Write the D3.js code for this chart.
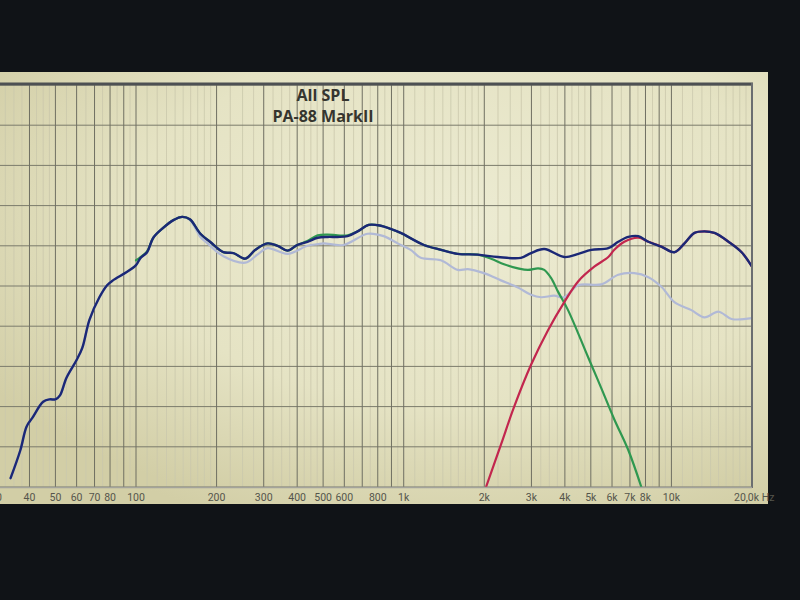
<!DOCTYPE html>
<html><head><meta charset="utf-8">
<script src="https://cdn.jsdelivr.net/npm/d3@7"></script>
<style>html,body{margin:0;padding:0;background:#101317;overflow:hidden}</style>
</head><body>
<script>
// ---- data (frequency in Hz, level in dB) ----
const titleLines = ["All SPL", "PA-88 MarkII"];
const totalFreq = [34,37,39,41,45,47.6,50,52,55,60,63,67,73,78,82,92,100,104,110,116,126,138,149,159,174,189,212,231,256,279,310,338,368,400,437,477,520,566,617,673,740,820,894,975,1190,1380,1590,1890,2250,2740,2990,3350,3980,4490,5020,5810,6330,6900,7520,8200,9170,10260,11190,12190,13290,14490,16350,18290,20000];
const totalDb   = [41.1,44.6,47.5,48.6,50.6,50.9,50.9,51.4,53.6,55.8,57.3,60.8,63.6,65.1,65.7,66.7,67.6,68.5,69.2,71.0,72.2,73.2,73.6,73.3,71.5,70.5,69.2,69.1,68.4,69.5,70.3,70.0,69.4,70.1,70.5,71.0,71.1,71.1,71.2,71.8,72.6,72.5,72.1,71.6,70.1,69.5,69.0,68.9,68.6,68.5,69.1,69.6,68.6,69.0,69.5,69.7,70.5,71.1,71.2,70.5,69.9,69.2,70.3,71.6,71.8,71.6,70.5,69.2,67.4];
const refFreq = [34,37,39,41,45,47.6,50,52,55,60,63,67,73,78,82,92,100,104,110,116,126,138,149,159,174,185,212,256,284,310,368,437,477,502,596,733,842,950,1062,1158,1376,1593,1737,1994,2308,2673,2990,3260,3646,3975,4485,5468,6331,7267,8202,9174,10260,11880,13290,15000,16770,20000];
const refDb   = [41.1,44.6,47.5,48.6,50.6,50.9,50.9,51.4,53.6,55.8,57.3,60.8,63.6,65.1,65.7,66.7,67.6,68.5,69.2,71.0,72.2,73.2,73.6,73.2,71.1,70.3,68.7,67.9,68.9,69.7,69.0,70.0,70.2,70.3,70.1,71.5,71.2,70.3,69.5,68.5,68.2,67.0,67.1,66.6,65.7,64.8,63.9,63.6,63.8,63.6,65.1,65.2,66.4,66.6,66.1,64.9,63.0,62.0,61.1,61.8,60.9,61.0];
const wooferFreq = [100,104,110,116,126,138,149,159,174,189,212,231,256,279,310,338,368,400,437,477,520,566,617,673,740,820,894,975,1190,1380,1590,1890,2120,2370,2670,2910,3180,3350,3550,3770,4110,4890,5470,6120,6900,7720];
const wooferDb   = [68.2,68.6,69.3,71.0,72.2,73.2,73.6,73.3,71.5,70.5,69.2,69.1,68.4,69.5,70.3,70.0,69.4,70.1,70.6,71.3,71.4,71.3,71.3,71.8,72.6,72.5,72.1,71.6,70.1,69.5,69.0,68.9,68.4,67.7,67.2,67.0,67.2,67.0,66.0,64.3,62.0,56.1,52.3,48.4,44.6,40.0];
const tweeterFreq = [2030,2310,2580,2990,3460,3980,4490,5150,5810,6120,6670,7520,8200,9170,10260,11190,12190,13290,14490,16350,18290,20000];
const tweeterDb   = [40.0,45.3,49.9,55.2,59.5,63.0,65.6,67.4,68.6,69.5,70.5,71.0,70.5,69.9,69.2,70.3,71.6,71.8,71.6,70.5,69.2,67.4];
const xMajor = [30,40,50,60,70,80,90,100,200,300,400,500,600,700,800,900,1000,2000,3000,4000,5000,6000,7000,8000,9000,10000,20000];
const xTickLabels = [[30,"30"],[40,"40"],[50,"50"],[60,"60"],[70,"70"],[80,"80"],[100,"100"],[200,"200"],[300,"300"],[400,"400"],[500,"500"],[600,"600"],[800,"800"],[1000,"1k"],[2000,"2k"],[3000,"3k"],[4000,"4k"],[5000,"5k"],[6000,"6k"],[7000,"7k"],[8000,"8k"],[10000,"10k"]];
const yTicks = [40,45,50,55,60,65,70,75,80,85,90];

// ---- layout ----
const W = 800, H = 600;
const plot = {left: 0, right: 752, top: 84, bottom: 487};
const x = d3.scaleLog().domain([30, 20000]).range([136 - 267.7 * Math.log10(100/30), 752]);
const y = d3.scaleLinear().domain([40, 90]).range([487, 85]);

const svg = d3.select("body").append("svg").attr("width", W).attr("height", H);
const defs = svg.append("defs");
const grad = defs.append("radialGradient").attr("id","bg").attr("cx","62%").attr("cy","35%").attr("r","75%");
grad.append("stop").attr("offset","0%").attr("stop-color","#ecebd2");
grad.append("stop").attr("offset","60%").attr("stop-color","#e5e3c4");
grad.append("stop").attr("offset","100%").attr("stop-color","#d2cea6");
defs.append("clipPath").attr("id","clip").append("rect")
  .attr("x",plot.left).attr("y",plot.top).attr("width",plot.right-plot.left).attr("height",plot.bottom-plot.top);

svg.append("rect").attr("width",W).attr("height",H).attr("fill","#101317");
// screen panel
svg.append("rect").attr("x",0).attr("y",72).attr("width",768).attr("height",432).attr("fill","url(#bg)");
svg.append("rect").attr("x",plot.left).attr("y",plot.top).attr("width",plot.right-plot.left).attr("height",plot.bottom-plot.top).attr("fill","url(#bg)");

const grid = svg.append("g").attr("clip-path","url(#clip)");
// minor vertical lines
const minor = [];
[10,100,1000,10000].forEach(dec => {
  for (let k = 1.1; k < 10; k += (k < 2 ? 0.1 : (k < 5 ? 0.25 : 0.5))) {
    const f = +(k*dec).toFixed(3);
    if (f >= 30 && f <= 20000 && !xMajor.includes(Math.round(f))) minor.push(f);
  }
});
grid.selectAll("line.minor").data(minor).join("line")
  .attr("x1",d=>x(d)).attr("x2",d=>x(d)).attr("y1",plot.top).attr("y2",plot.bottom)
  .attr("stroke","#cac8ac").attr("stroke-width",0.8);
grid.selectAll("line.h").data(yTicks).join("line")
  .attr("x1",plot.left).attr("x2",plot.right).attr("y1",d=>y(d)).attr("y2",d=>y(d))
  .attr("stroke","#7b7b6c").attr("stroke-width",1);
grid.selectAll("line.v").data(xMajor).join("line")
  .attr("x1",d=>x(d)).attr("x2",d=>x(d)).attr("y1",plot.top).attr("y2",plot.bottom)
  .attr("stroke","#6f6f62").attr("stroke-width",1);

// curves
const line = d3.line().x(d=>x(d[0])).y(d=>y(d[1])).curve(d3.curveCatmullRom.alpha(0.5));
const curves = svg.append("g").attr("clip-path","url(#clip)").attr("fill","none")
  .attr("stroke-linejoin","round").attr("stroke-linecap","round");
const zip = (a,b) => a.map((v,i)=>[v,b[i]]);
curves.append("path").attr("d", line(zip(refFreq, refDb))).attr("stroke","#b1b9d6").attr("stroke-width",2.2);
curves.append("path").attr("d", line(zip(wooferFreq, wooferDb))).attr("stroke","#2f9850").attr("stroke-width",2.2);
curves.append("path").attr("d", line(zip(tweeterFreq, tweeterDb))).attr("stroke","#c2264e").attr("stroke-width",2.2);
curves.append("path").attr("d", line(zip(totalFreq, totalDb))).attr("stroke","#1b2876").attr("stroke-width",2.4);

// borders
svg.append("line").attr("x1",0).attr("x2",753).attr("y1",84).attr("y2",84).attr("stroke","#4d5053").attr("stroke-width",3);
svg.append("line").attr("x1",752).attr("x2",752).attr("y1",83).attr("y2",488).attr("stroke","#6b6e70").attr("stroke-width",2);
svg.append("line").attr("x1",0).attr("x2",752).attr("y1",487.5).attr("y2",487.5).attr("stroke","#a3a39b").attr("stroke-width",1.5);

// x tick labels
svg.append("g").selectAll("text").data(xTickLabels).join("text")
  .attr("x",d=>x(d[0])).attr("y",501).attr("text-anchor","middle")
  .attr("font-family","Roboto, 'DejaVu Sans', sans-serif").attr("font-size",10.5).attr("fill","#55554c")
  .text(d=>d[1]);
svg.append("text").attr("x",x(20000)-18).attr("y",501).attr("text-anchor","start")
  .attr("font-family","Roboto, 'DejaVu Sans', sans-serif").attr("font-size",10.5).attr("fill","#55554c")
  .text("20,0k Hz");

// title
svg.append("g").selectAll("text").data(titleLines).join("text")
  .attr("x",323).attr("y",(d,i)=>101+i*21).attr("text-anchor","middle")
  .attr("font-family","'Open Sans', 'Noto Sans', sans-serif").attr("font-weight","bold").attr("font-size",16)
  .attr("fill","#35352f").text(d=>d);
</script>
</body></html>
